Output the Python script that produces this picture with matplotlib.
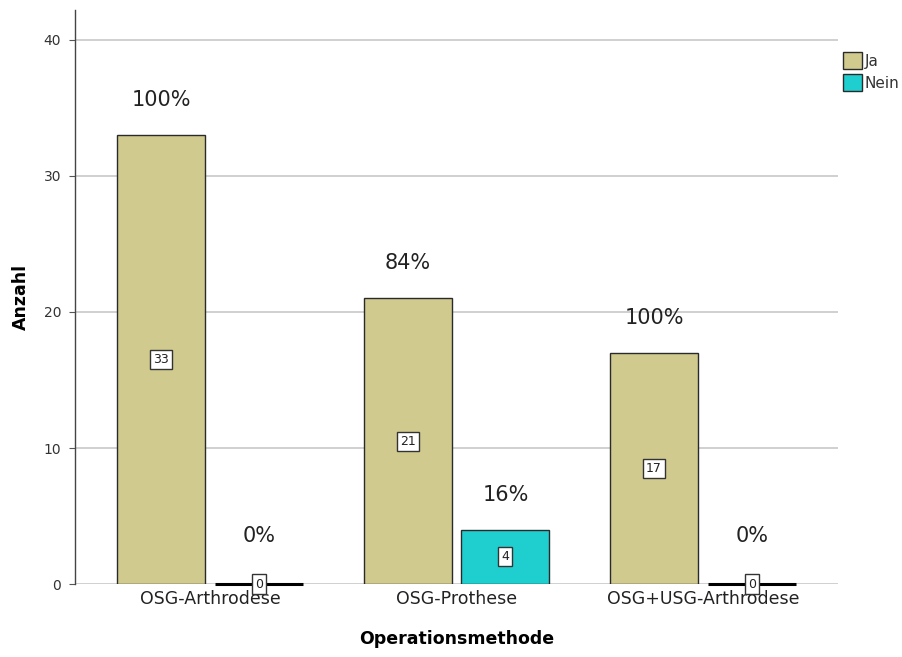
import numpy as np
import matplotlib.pyplot as plt
from matplotlib.patches import Patch

categories = ["OSG-Arthrodese", "OSG-Prothese", "OSG+USG-Arthrodese"]
ja = [33, 21, 17]
nein = [0, 4, 0]
ja_pct = ["100%", "84%", "100%"]
nein_pct = ["0%", "16%", "0%"]

col_ja = "#d0ca8e"
col_nein = "#1fcfcf"

fig = plt.figure(figsize=(9.03, 6.57), dpi=100)
ax = fig.add_axes([0.083, 0.111, 0.845, 0.874])

x = np.arange(len(categories))
w = 0.357
gap = 0.04

ax.set_ylim(0, 42.2)
ax.set_xlim(-0.548, 2.548)
ax.set_yticks([0, 10, 20, 30, 40])
ax.yaxis.grid(True, color="#c8c8c8", linewidth=1.2)
ax.set_axisbelow(True)

for vals, pcts, offs, col in [(ja, ja_pct, -(w + gap) / 2, col_ja),
                              (nein, nein_pct, (w + gap) / 2, col_nein)]:
    for xi, v, p in zip(x, vals, pcts):
        pos = xi + offs
        if v > 0:
            ax.bar(pos, v, width=w, color=col, edgecolor="#2a2a2a", linewidth=1.0, zorder=2)
            lab_y = v / 2
            pct_off = 35
        else:
            ax.plot([pos - w / 2, pos + w / 2], [0, 0], color="black", linewidth=2.2, zorder=3,
                    solid_capstyle="butt", clip_on=False)
            lab_y = 0
            pct_off = 48
        ax.text(pos, lab_y, str(v), ha="center", va="center", fontsize=9, color="#222222", zorder=4,
                bbox=dict(boxstyle="square,pad=0.25", facecolor="white", edgecolor="#333333", linewidth=1))
        ax.annotate(p, (pos, v), xytext=(0, pct_off), textcoords="offset pixels",
                    ha="center", va="center", fontsize=15, color="#222222")

ax.set_xticks(x)
ax.set_xticklabels(categories, fontsize=12.5, color="#222222")
ax.tick_params(axis="x", length=0, pad=4)
ax.tick_params(axis="y", length=4, color="#555555", labelsize=10, labelcolor="#333333", pad=6)

for s in ["top", "right", "bottom"]:
    ax.spines[s].set_visible(False)
ax.spines["left"].set_color("#444444")
ax.spines["left"].set_linewidth(1.0)

ax.set_xlabel("Operationsmethode", fontsize=12.5, fontweight="bold", labelpad=16)
ax.set_ylabel("Anzahl", fontsize=12.5, fontweight="bold", labelpad=10)

handles = [Patch(facecolor=col_ja, edgecolor="#2a2a2a", label="Ja"),
           Patch(facecolor=col_nein, edgecolor="#2a2a2a", label="Nein")]
fig.legend(handles=handles, loc="upper left", bbox_to_anchor=(0.927, 0.93), frameon=False,
           fontsize=11, handlelength=1.2, handleheight=1.3, handletextpad=0.2,
           labelspacing=0.35, borderaxespad=0, labelcolor="#333333")

fig.savefig("out.png", dpi=100)
